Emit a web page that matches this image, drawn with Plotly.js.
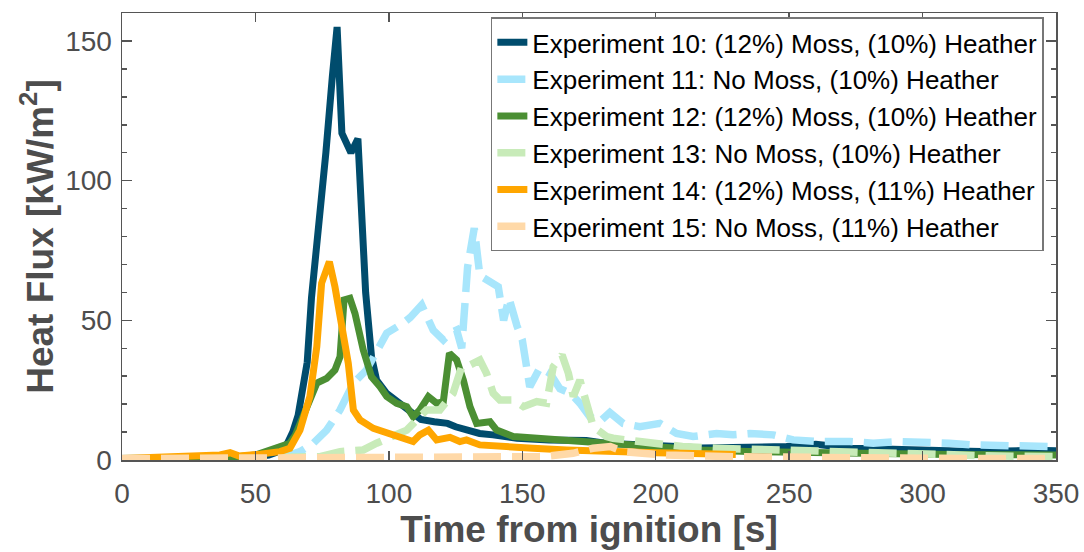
<!DOCTYPE html>
<html>
<head>
<meta charset="utf-8">
<script src="https://cdn.plot.ly/plotly-3.0.1.min.js"></script>
<style>html,body{margin:0;padding:0;background:#fff;}#chart{width:1084px;height:552px;}</style>
</head>
<body>
<div id="chart"></div>
<script>
// Experiment 10: (12%) Moss, (10%) Heather
const t10 = [0, 10, 20, 30, 40, 45, 50, 55, 58, 60, 62, 64, 66, 67.5, 69.4, 71, 72.8, 74.3, 76.4, 78.8, 80.6, 82.4, 85.8, 88.4, 91.3, 93.5, 95.4, 99, 104, 109, 112, 117, 122, 125, 129, 134, 139, 148, 160, 174, 181, 190, 199, 208, 217, 226, 235, 242, 249, 255, 260, 266, 273, 282, 291, 298, 304, 313, 322, 330, 335, 342, 350];
const v10 = [0.3, 0.4, 0.5, 0.6, 0.8, 1, 1.2, 1.8, 2.5, 3.5, 6, 10, 16, 24, 35, 58, 74, 86, 110, 137, 155, 117, 110, 115, 60, 37, 28.6, 24, 20.3, 17, 14.5, 13.7, 13.1, 11.9, 10.7, 9.5, 9, 7.8, 7.2, 7, 6, 5.8, 5.4, 4.8, 4.3, 4.4, 4.3, 4.6, 4.8, 5.2, 5.6, 5, 4.2, 4, 3.6, 3.3, 3, 3.2, 3, 3.4, 3.2, 3.5, 3.3];

// Experiment 11: No Moss, (10%) Heather
const t11 = [0, 20, 40, 55, 62, 66.7, 71.7, 76.7, 81.7, 86.7, 91.6, 95.4, 99.2, 105.4, 108, 112.3, 116.6, 120.4, 122.9, 125.4, 127.3, 129.5, 132, 134.1, 138, 141, 143, 145, 148, 150, 152.8, 156.6, 160.4, 164.1, 167.9, 171.6, 175.3, 179, 182.8, 187.8, 194, 201.6, 207.8, 214, 222.8, 229, 235.3, 244, 251.5, 261.5, 272.8, 281.5, 291.5, 300, 310, 319, 329, 341, 350];
const v11 = [0.5, 0.6, 0.8, 1, 1.5, 3, 6, 10.7, 17.9, 27.5, 32.2, 39.4, 45.4, 49, 51, 55.5, 46.5, 43, 45.4, 46.5, 40, 69, 83, 66, 64, 62, 50, 58, 48, 43, 26.2, 33, 31, 25.5, 24, 20.3, 15.5, 13.7, 17, 13.1, 11.9, 13.1, 9.5, 8.4, 9.5, 9, 9.5, 9, 7.2, 6.6, 6.6, 6, 6.6, 6.6, 6, 5.4, 5.4, 4.8, 4.8];

// Experiment 12: (12%) Moss, (10%) Heather
const t12 = [0, 10, 20, 30, 40, 50, 55.5, 60, 62.9, 65, 67.9, 70, 73, 76.7, 79.8, 81.7, 83.2, 85.4, 87.3, 90.4, 93.5, 96.7, 99.2, 102.9, 106.7, 109.1, 111.6, 114.8, 117.9, 120.4, 122.7, 125.4, 127.9, 130.4, 132.9, 137.9, 140.4, 146.6, 154, 162.8, 174, 181.6, 191.5, 200, 216.6, 235, 254, 272.8, 290, 310, 330, 350];
const v12 = [0.2, 0.3, 0.4, 0.6, 0.9, 1.8, 3.6, 5, 6, 9, 15.5, 21, 27.5, 29.2, 32.2, 37, 57.3, 57.9, 52.5, 39.4, 29.8, 26.2, 22.7, 20.3, 19.1, 15.5, 17.9, 22.7, 20.3, 20.9, 38.2, 35.8, 28.6, 19.1, 13.1, 13.7, 10.7, 8.4, 7.8, 7.4, 6.6, 6, 5.4, 4.8, 3.6, 3, 2.6, 2.4, 2.2, 2, 1.9, 1.8];

// Experiment 13: No Moss, (10%) Heather
const t13 = [0, 20, 40, 60, 74.2, 81.7, 90.4, 95.4, 101.7, 106.7, 111.6, 114.1, 119.1, 124.1, 127.3, 130.4, 134.1, 136.6, 139.1, 141.6, 146.6, 150.4, 155.4, 159.1, 161.6, 164.9, 167.3, 169.1, 171.6, 174.1, 176.6, 181.6, 184, 194, 210, 222.8, 241.5, 260, 279, 304, 329, 350];
const v13 = [0.3, 0.4, 0.5, 0.8, 1.2, 3, 3.6, 6, 8.4, 10.7, 15.5, 17.9, 17.9, 23.9, 33.4, 34, 35.8, 31, 23.9, 21.5, 21.5, 19.1, 20.9, 20.3, 33.4, 37.6, 31, 22.7, 28.6, 19.1, 11.9, 8.4, 7.8, 6.6, 4.8, 4.2, 3.6, 3, 2.4, 1.8, 1.4, 1.2];

// Experiment 14: (12%) Moss, (11%) Heather
const t14 = [0, 10, 20, 30, 36.7, 40.5, 44, 51.7, 59.2, 62.9, 66.7, 70.4, 73, 74.8, 77.7, 79.8, 82.3, 84.8, 86.7, 89.2, 94.2, 99.2, 104.2, 109.1, 111.6, 114.8, 117.9, 122.9, 126.6, 129.1, 134.1, 141.6, 154, 166.6, 179, 190, 200, 210, 220, 230];
const v14 = [0.5, 0.8, 1.2, 1.5, 1.8, 2.6, 1.4, 2.1, 3, 4.2, 10.7, 22.7, 40.6, 63.3, 71, 62, 49, 34.6, 17.9, 14.3, 11.3, 9.5, 8.1, 6.6, 9, 10.7, 7.2, 8.1, 6.6, 7.2, 5.4, 4.8, 4.2, 3.6, 3, 2.8, 2.6, 2.4, 2.2, 2];

// Experiment 15: No Moss, (11%) Heather
const t15 = [0, 20, 40, 60, 80, 100, 120, 140, 157.7, 169, 176.5, 183, 188, 195, 204, 229, 260, 300, 350];
const v15 = [0.5, 0.6, 0.8, 1, 1, 0.8, 0.8, 0.9, 1.2, 2.4, 4.2, 4.8, 3, 2.4, 1.8, 1.2, 0.8, 0.6, 0.5];

const names = [
  'Experiment 10: (12%) Moss, (10%) Heather',
  'Experiment 11: No Moss, (10%) Heather',
  'Experiment 12: (12%) Moss, (10%) Heather',
  'Experiment 13: No Moss, (10%) Heather',
  'Experiment 14: (12%) Moss, (11%) Heather',
  'Experiment 15: No Moss, (11%) Heather'
];
const colors = ['#004c6d', '#a8e6fc', '#4b8f33', '#c8ebb9', '#ffa600', '#ffd9a8'];
const dashes = ['solid', '28px,11px', 'solid', '28px,11px', 'solid', '28px,11px'];
const widths = [7, 7.5, 7, 7.5, 7, 7.5];
const xs = [t10, t11, t12, t13, t14, t15];
const ys = [v10, v11, v12, v13, v14, v15];

const traces = names.map((n, i) => ({
  type: 'scatter', mode: 'lines', name: n,
  x: xs[i], y: ys[i],
  line: {color: colors[i], width: widths[i], dash: dashes[i]}
}));

const axisCommon = {
  showline: true, linecolor: '#555', linewidth: 1.5, mirror: 'ticks',
  ticks: 'inside', tickcolor: '#555', tickwidth: 1.5,
  showgrid: false, zeroline: false,
  tickfont: {family: 'Arial, "Liberation Sans", sans-serif', size: 28, color: '#4d4d4d'}
};

const layout = {
  width: 1084, height: 552,
  margin: {l: 122, r: 28, t: 13, b: 92},
  paper_bgcolor: '#fff', plot_bgcolor: '#fff',
  font: {family: 'Arial, "Liberation Sans", sans-serif', color: '#4d4d4d'},
  showlegend: true,
  xaxis: Object.assign({}, axisCommon, {
    range: [0, 350], tick0: 0, dtick: 50, ticklen: 9,
    ticklabelstandoff: 8,
    title: {text: '<b>Time from ignition [s]</b>', font: {size: 37, color: '#4d4d4d'}, standoff: 2}
  }),
  yaxis: Object.assign({}, axisCommon, {
    range: [0, 160], tick0: 0, dtick: 50, ticklen: 10,
    ticklabelstandoff: 3,
    minor: {dtick: 10, ticks: 'inside', ticklen: 5, tickcolor: '#555', tickwidth: 1.5},
    title: {text: '<b>Heat Flux [kW/m<sup>2</sup>]</b>', font: {size: 37, color: '#4d4d4d'}, standoff: 0}
  }),
  legend: {
    x: 0.987, xanchor: 'right', y: 0.99, yanchor: 'top',
    bgcolor: '#fff', bordercolor: '#777', borderwidth: 1.5,
    font: {family: 'Arial, "Liberation Sans", sans-serif', size: 26, color: '#000'},
    itemwidth: 30, tracegroupgap: 0
  }
};

Plotly.newPlot('chart', traces, layout, {displayModeBar: false, staticPlot: true});
</script>
</body>
</html>
